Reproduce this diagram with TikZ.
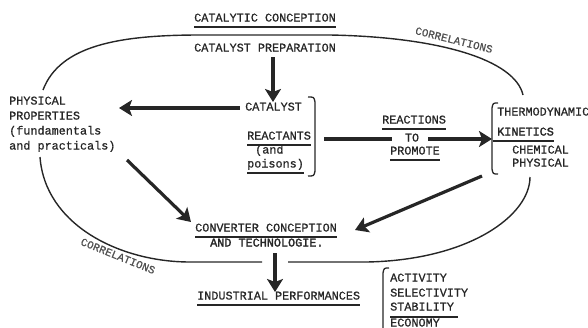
\documentclass[tikz,border=0pt]{standalone}
\usepackage{fontspec}
\setmainfont{Liberation Mono}[FakeBold=0.8]
\newfontfamily\boldtw{Liberation Mono}[FakeBold=2]
\usetikzlibrary{arrows.meta}
\definecolor{ink}{HTML}{262626}
\tikzset{
  txt/.style={inner sep=0pt, anchor=west, text height=7pt, text depth=0pt, text=ink, font=\fontsize{11.8}{14}\selectfont},
  ctxt/.style={txt, anchor=center},
  corr/.style={inner sep=0pt, text=ink!80, font=\fontsize{11}{13}\selectfont},
  ul/.style={draw=ink, line width=1.7pt},
  oval/.style={draw=ink, line width=1.4pt},
  bigarrow/.style={draw=ink, line width=3.2pt, -{Stealth[length=13pt,width=16pt,inset=3pt]}},
  brk/.style={draw=ink, line width=1.3pt}
}
\begin{document}
\begin{tikzpicture}[x=1pt,y=-1pt]
\useasboundingbox (0,0) rectangle (588,327);
% oval
\draw[oval] (43,90) .. controls (60,45) and (120,35) .. (200,35) -- (330,35) .. controls (440,37) and (515,60) .. (523,95);
\draw[oval] (40,157) .. controls (45,225) and (120,262) .. (190,262) -- (262,262);
\draw[oval] (288,262) -- (367,262) .. controls (470,260) and (530,215) .. (530,177);
% top
\node[txt] (title) at (194,18) {CATALYTIC CONCEPTION};
\draw[ul] ([yshift=-5pt]title.south west) -- ([yshift=-5pt]title.south east);
\node[txt] (prep) at (194,48) {CATALYST PREPARATION};
\node[corr, rotate=-14] (corrtop) at (454,40) {CORRELATIONS};
% left
\node[txt] (phys1) at (9,101) {PHYSICAL};
\node[txt] (phys2) at (9,116) {PROPERTIES};
\node[txt] (phys3) at (9,131) {(fundamentals};
\node[txt] (phys4) at (9,146) {and practicals)};
% center group
\node[txt] (cat) at (245,107) {CATALYST};
\node[txt] (reac) at (247,136) {REACTANTS};
\draw[ul] ([yshift=-5pt]reac.south west) -- ([yshift=-5pt]reac.south east);
\node[txt] (and) at (255,150) {(and};
\node[txt] (pois) at (247,164) {poisons)};
\draw[ul] ([yshift=-5pt]pois.south west) -- ([yshift=-5pt]pois.south east);
\coordinate (rb1) at (315,97);
\coordinate (rb2) at (315,176);
\draw[brk] ([xshift=-7pt]rb1) .. controls ([xshift=-1pt]rb1) .. ([yshift=-5pt]rb1) -- ([yshift=5pt]rb2) .. controls ([xshift=-1pt]rb2) .. ([xshift=-7pt]rb2);
% reactions
\node[txt] (reacs) at (382,120) {REACTIONS};
\draw[ul] ([yshift=-5pt]reacs.south west) -- ([yshift=-5pt]reacs.south east);
\node[ctxt] (to) at (412,138) {TO};
\node[txt] (prom) at (390,151) {PROMOTE};
\draw[ul] ([yshift=-5pt]prom.south west) -- ([yshift=-5pt]prom.south east);
% right group
\coordinate (lb1) at (492,103);
\coordinate (lb2) at (492,174);
\draw[brk] ([xshift=6pt]lb1) .. controls ([xshift=1pt]lb1) .. ([yshift=-5pt]lb1) -- ([yshift=5pt]lb2) .. controls ([xshift=1pt]lb2) .. ([xshift=6pt]lb2);
\node[txt] (thermo) at (497,112) {THERMODYNAMIC};
\node[txt, font=\fontsize{11.8}{14}\boldtw] (kin) at (497,132) {KINETICS};
\draw[ul] ([yshift=-5pt,xshift=-4pt]kin.south west) -- ([yshift=-5pt]kin.south east);
\node[txt] (chem) at (512,150) {CHEMICAL};
\node[txt] (physr) at (512,163) {PHYSICAL};
% converter
\node[txt] (conv) at (195,228) {CONVERTER CONCEPTION};
\draw[ul] ([yshift=-5pt]conv.south west) -- ([yshift=-5pt]conv.south east);
\node[txt, font=\fontsize{11.8}{14}\boldtw] (tech) at (210,243) {AND TECHNOLOGIE.};
\node[corr, rotate=-22] (corrbot) at (118,256) {CORRELATIONS};
% industrial
\node[txt] (ind) at (197,296) {INDUSTRIAL PERFORMANCES};
\draw[ul] ([yshift=-5pt]ind.south west) -- ([yshift=-5pt]ind.south east);
\coordinate (bb1) at (383,268);
\coordinate (bb2) at (383,335);
\draw[brk] ([xshift=6pt]bb1) .. controls ([xshift=1pt]bb1) .. ([yshift=-5pt]bb1) -- (bb2);
\node[txt] (act) at (390,278) {ACTIVITY};
\node[txt] (sel) at (390,293) {SELECTIVITY};
\node[txt] (stab) at (390,307) {STABILITY};
\draw[ul] ([yshift=-6pt]stab.south west) -- ([yshift=-6pt,xshift=4pt]stab.south east);
\node[txt] (eco) at (390,323) {ECONOMY};
% arrows
\coordinate (a1s) at (273,57);
\coordinate (a1e) at (273,102);
\draw[bigarrow] (a1s) -- (a1e);
\coordinate (a2s) at (240,108);
\coordinate (a2e) at (119,108);
\draw[bigarrow] (a2s) -- (a2e);
\coordinate (a3s) at (324,139);
\coordinate (a3m) at (392,139);
\draw[draw=ink, line width=3.2pt] (a3s) -- (a3m);
\coordinate (a3b) at (428,139);
\coordinate (a3e) at (492,139);
\draw[bigarrow] (a3b) -- (a3e);
\coordinate (a4s) at (127,160);
\coordinate (a4e) at (191,222);
\draw[bigarrow] (a4s) -- (a4e);
\coordinate (a5s) at (482,176);
\coordinate (a5e) at (355,230);
\draw[bigarrow] (a5s) -- (a5e);
\coordinate (a6s) at (275,253);
\coordinate (a6e) at (275,292);
\draw[bigarrow] (a6s) -- (a6e);
\end{tikzpicture}
\end{document}
